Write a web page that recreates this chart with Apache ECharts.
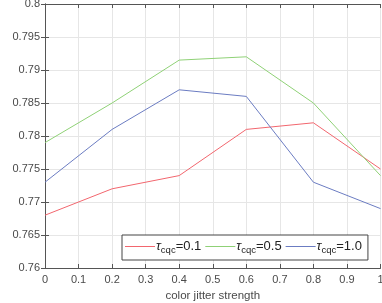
<!DOCTYPE html>
<html><head><meta charset="utf-8">
<script src="https://cdn.jsdelivr.net/npm/echarts@6/dist/echarts.min.js"></script>
<style>html,body{margin:0;padding:0;background:#fff}#c{width:382px;height:303px}</style>
</head><body><div id="c"></div>
<script>
const xValues = [0, 0.2, 0.4, 0.6, 0.8, 1.0];
const tau01 = [0.768, 0.772, 0.774, 0.781, 0.782, 0.775];
const tau05 = [0.779, 0.785, 0.7915, 0.792, 0.785, 0.774];
const tau10 = [0.773, 0.781, 0.787, 0.786, 0.773, 0.769];
const seriesNames = ['0.1', '0.5', '1.0'];
const colors = ['#f2666e', '#8fd176', '#6b7cc2'];
const FONT = 'Liberation Sans';
const textColor = '#4a4a4a';
const axisColor = '#555';

const chart = echarts.init(document.getElementById('c'));
const mk = (name, data, color) => ({
  name: name, type: 'line', symbol: 'none',
  data: xValues.map((x, i) => [x, data[i]]),
  lineStyle: {color: color, width: 1}, itemStyle: {color: color},
  xAxisIndex: 0, yAxisIndex: 0, z: 3
});
chart.setOption({
  animation: false,
  grid: {left: 45, right: 1.5, top: 4, bottom: 35, containLabel: false, outerBoundsMode: 'none'},
  xAxis: [{
    type: 'value', min: 0, max: 1, interval: 0.1, position: 'bottom',
    name: 'color jitter strength', nameLocation: 'middle', nameGap: 21,
    nameTextStyle: {fontFamily: FONT, fontSize: 11.5, color: textColor},
    axisLine: {show: true, lineStyle: {color: axisColor}},
    axisTick: {show: true, inside: true, length: 4, lineStyle: {color: axisColor}},
    axisLabel: {fontFamily: FONT, fontSize: 11, color: textColor, margin: 6, formatter: v => String(+v.toFixed(1))},
    splitLine: {show: true, lineStyle: {color: '#e6e6e6'}}
  }, {
    type: 'value', min: 0, max: 1, interval: 0.1, position: 'top',
    axisLine: {show: true, lineStyle: {color: axisColor}},
    axisTick: {show: true, inside: true, length: 4, lineStyle: {color: axisColor}},
    axisLabel: {show: false}, splitLine: {show: false}
  }],
  yAxis: [{
    type: 'value', min: 0.76, max: 0.8, interval: 0.005, position: 'left',
    name: 'mAP', nameLocation: 'middle', nameGap: 34, nameRotate: 90,
    nameTextStyle: {fontFamily: FONT, fontSize: 11.5, color: textColor},
    axisLine: {show: true, lineStyle: {color: axisColor}},
    axisTick: {show: true, inside: true, length: 4, lineStyle: {color: axisColor}},
    axisLabel: {fontFamily: FONT, fontSize: 11, color: textColor, margin: 5, formatter: v => String(+v.toFixed(3))},
    splitLine: {show: true, lineStyle: {color: '#e6e6e6'}}
  }, {
    type: 'value', min: 0.76, max: 0.8, interval: 0.005, position: 'right',
    axisLine: {show: true, lineStyle: {color: axisColor}},
    axisTick: {show: true, inside: true, length: 4, lineStyle: {color: axisColor}},
    axisLabel: {show: false}, splitLine: {show: false}
  }],
  legend: {
    left: 122, top: 235, width: 253, height: 25,
    orient: 'horizontal', itemGap: 4, itemWidth: 30, itemHeight: 1,
    icon: 'rect',
    padding: [5, 6, 5, 3],
    borderColor: '#444', borderWidth: 1, backgroundColor: '#fff',
    data: seriesNames,
    formatter: n => '{i|τ}{s|cqc}{t|=' + n + '}',
    textStyle: {
      fontFamily: FONT, color: textColor, padding: [0, 0, 0, -4],
      rich: {
        i: {fontFamily: FONT, fontSize: 13, fontStyle: 'italic', color: '#222'},
        t: {fontFamily: FONT, fontSize: 13, color: '#222'},
        s: {fontFamily: FONT, fontSize: 9.5, color: '#222', padding: [7, 0, 0, 0]}
      }
    }
  },
  series: [mk(seriesNames[0], tau01, colors[0]), mk(seriesNames[1], tau05, colors[1]), mk(seriesNames[2], tau10, colors[2])]
});
</script></body></html>
